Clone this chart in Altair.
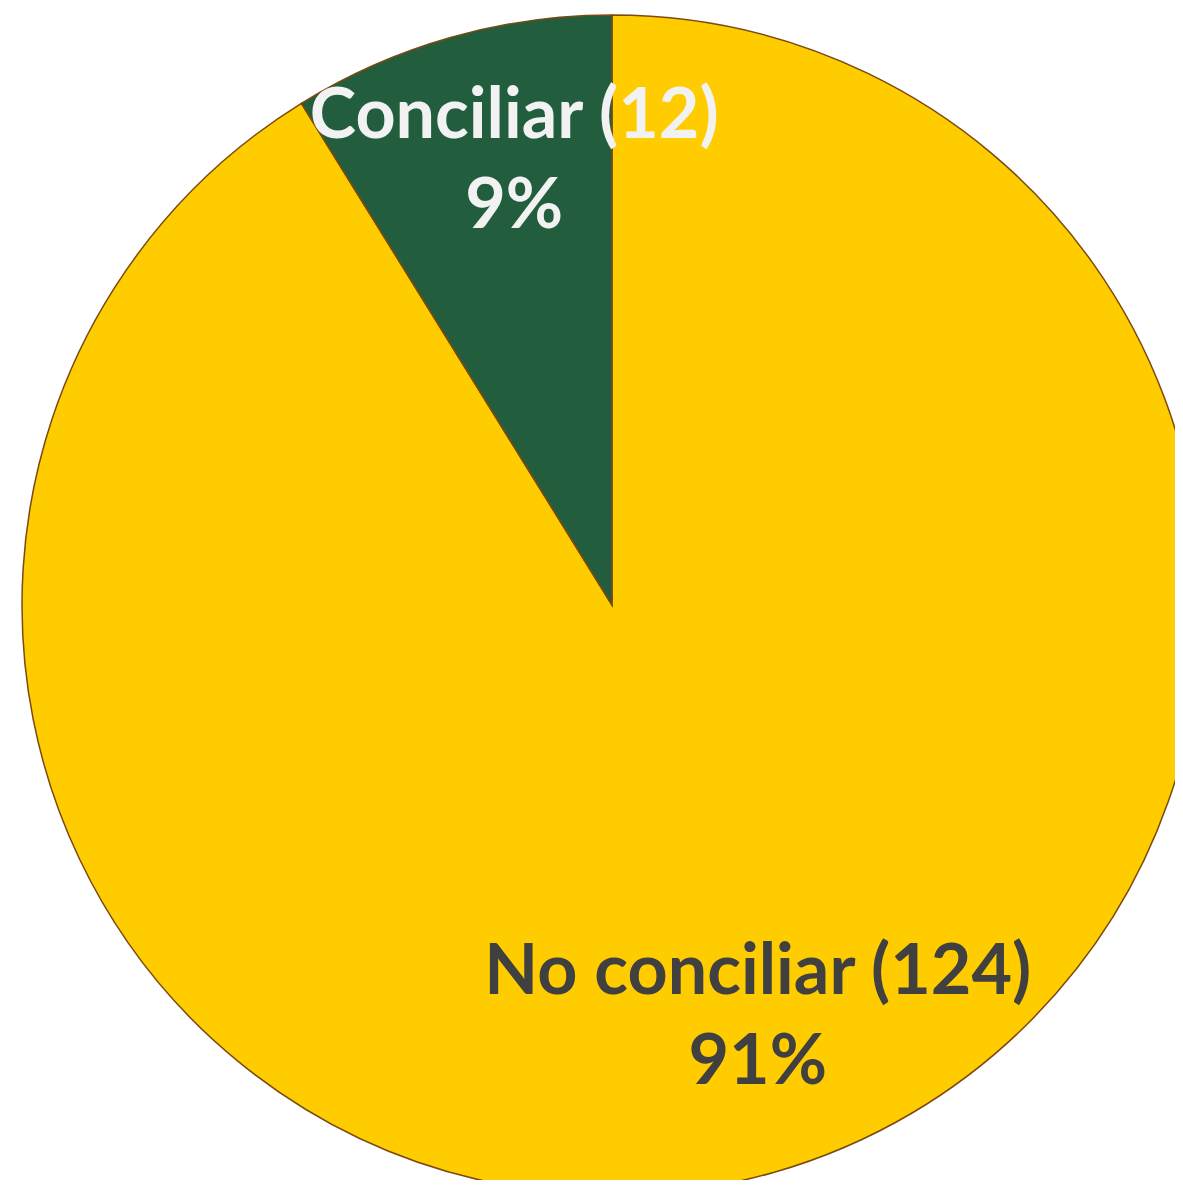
import altair as alt
import pandas as pd

categories = ["No conciliar", "Conciliar"]
counts = [124, 12]
percents = ["91%", "9%"]
colors = ["#FFCC00", "#225E3E"]
text_colors = ["#404040", "#F2F2F2"]

df = pd.DataFrame({
    "category": categories,
    "count": counts,
    "label": [[f"{c} ({n})", p] for c, n, p in zip(categories, counts, percents)],
})

base = alt.Chart(df).encode(
    theta=alt.Theta("count:Q", stack=True),
    order=alt.Order("count:Q", sort="descending"),
)

pie = base.mark_arc(radius=590, stroke="#7A4A10", strokeWidth=1.5).encode(
    x=alt.value(604),
    y=alt.value(597),
    color=alt.Color("category:N", scale=alt.Scale(domain=categories, range=colors), legend=None),
)

labels = base.mark_text(
    radius=445, dx=24, dy=-60, font="Lato", fontWeight="bold", fontSize=70,
    lineHeight=90, align="center", baseline="middle",
).encode(
    x=alt.value(604),
    y=alt.value(597),
    text="label",
    color=alt.Color("category:N", scale=alt.Scale(domain=categories, range=text_colors), legend=None),
)

chart = alt.layer(pie, labels).resolve_scale(color="independent").properties(
    width=1167, height=1172, autosize=alt.AutoSizeParams(type="none"), padding=0,
).configure_view(stroke=None)

chart.save("out.html", embed_options={"renderer": "svg", "actions": False})
